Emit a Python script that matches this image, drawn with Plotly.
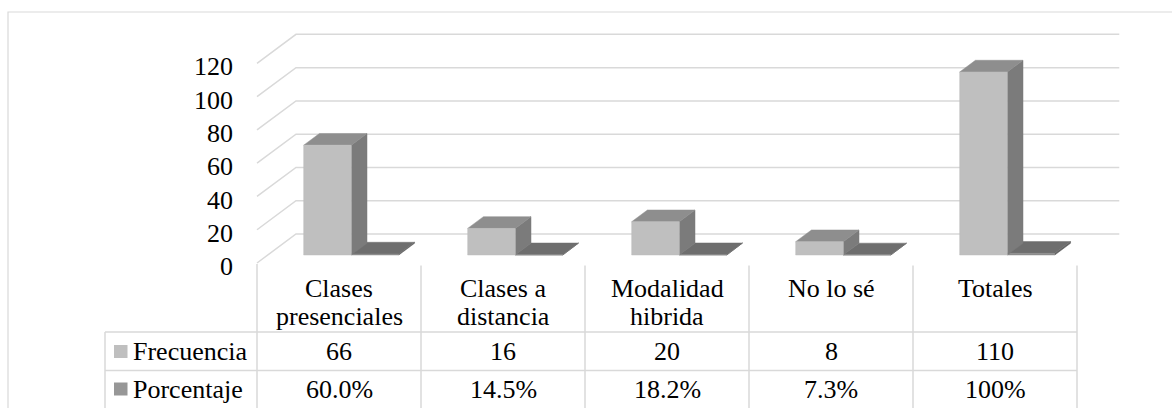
import plotly.graph_objects as go

# ---------------- data ----------------
cat_line1 = ["Clases", "Clases a", "Modalidad", "No lo sé", "Totales"]
cat_line2 = ["presenciales", "distancia", "hibrida", "", ""]
series_names = ["Frecuencia", "Porcentaje"]
frecuencia = [66, 16, 20, 8, 110]
porcentaje = [0.600, 0.145, 0.182, 0.073, 1.00]
frecuencia_labels = ["66", "16", "20", "8", "110"]
porcentaje_labels = ["60.0%", "14.5%", "18.2%", "7.3%", "100%"]
y_ticks = [0, 20, 40, 60, 80, 100, 120]

# ---------------- geometry / style ----------------
W, H = 1172, 408
PX_PER_UNIT = 1.6636
PX_PER_CAT = 164.0
FRONT_ZERO_PX = 263.0
FRONT_LEFT_PX = 257.0
DEPTH_DX_PX, DEPTH_DY_PX = 39.0, 29.0
T0, T1 = 0.276, 0.68
BAR_OFF, BAR_W = -0.281, 0.29
FONT = "Liberation Serif"
FS = 26
GRID = "#D9D9D9"
front_cols = ["#BFBFBF", "#8C8C8C"]
top_cols = ["#8E8E8E", "#6E6E6E"]
side_cols = ["#7B7B7B", "#5E5E5E"]
legend_cols = ["#BFBFBF", "#979797"]

x_range = [(0 - FRONT_LEFT_PX) / PX_PER_CAT - 0.5, (W - FRONT_LEFT_PX) / PX_PER_CAT - 0.5]
y_range = [(FRONT_ZERO_PX - H) / PX_PER_UNIT, FRONT_ZERO_PX / PX_PER_UNIT]


def ddx(t):
    return t * DEPTH_DX_PX / PX_PER_CAT


def ddy(t):
    return t * DEPTH_DY_PX / PX_PER_UNIT


def xpx(px):
    return (px - FRONT_LEFT_PX) / PX_PER_CAT - 0.5


def ypaper(px):
    return 1 - px / H


n = len(cat_line1)
fig = go.Figure()

# 3D walls gridlines
gx, gy = [], []
back_right = n - 0.5 + 0.02
for v in y_ticks:
    gx += [-0.5, -0.5 + ddx(1), back_right + ddx(1), None]
    gy += [v, v + ddy(1), v + ddy(1), None]
fig.add_trace(go.Scatter(x=gx, y=gy, mode="lines", line=dict(color=GRID, width=1.5),
                         hoverinfo="skip", showlegend=False))


def poly(xs, ys, color):
    fig.add_trace(go.Scatter(x=xs + [xs[0]], y=ys + [ys[0]], mode="lines", fill="toself",
                             fillcolor=color, line=dict(color=color, width=0.5),
                             hoverinfo="skip", showlegend=False))


series_vals = [frecuencia, porcentaje]
for i in range(n):
    for s in [1, 0]:
        v = series_vals[s][i]
        xl = i + BAR_OFF + s * BAR_W
        xr = xl + BAR_W
        a0x, a0y, a1x, a1y = ddx(T0), ddy(T0), ddx(T1), ddy(T1)
        # side face
        poly([xr + a0x, xr + a1x, xr + a1x, xr + a0x],
             [a0y, a1y, v + a1y, v + a0y], side_cols[s])
        # top face
        poly([xl + a0x, xr + a0x, xr + a1x, xl + a1x],
             [v + a0y, v + a0y, v + a1y, v + a1y], top_cols[s])
        # front face
        poly([xl + a0x, xr + a0x, xr + a0x, xl + a0x],
             [a0y, a0y, v + a0y, v + a0y], front_cols[s])

shapes = []
line_style = dict(color=GRID, width=1.5)
# chart border
shapes.append(dict(type="rect", xref="paper", yref="paper", x0=8 / W, x1=1.02, y0=-0.02,
                   y1=ypaper(12), line=dict(color=GRID, width=1.2), fillcolor="rgba(0,0,0,0)"))
# table lines
tbl_left = xpx(105)
for ypx in [332, 370.5]:
    shapes.append(dict(type="line", xref="x", yref="paper", x0=tbl_left, x1=n - 0.5,
                       y0=ypaper(ypx), y1=ypaper(ypx), line=line_style))
shapes.append(dict(type="line", xref="x", yref="paper", x0=tbl_left, x1=tbl_left,
                   y0=ypaper(332), y1=-0.02, line=line_style))
for k in range(n + 1):
    shapes.append(dict(type="line", xref="x", yref="paper", x0=k - 0.5, x1=k - 0.5,
                       y0=ypaper(264 if k == 0 else 265.5), y1=-0.02, line=line_style))
# legend keys
for s, ycen in enumerate([351.5, 389]):
    shapes.append(dict(type="rect", xref="paper", yref="paper", x0=114 / W, x1=127.5 / W,
                       y0=ypaper(ycen + 6.5), y1=ypaper(ycen - 6.5),
                       line=dict(width=0), fillcolor=legend_cols[s]))

ann = []
tf = dict(family=FONT, size=FS, color="#000000")
for s, ycen in enumerate([351, 389]):
    ann.append(dict(x=131 / W, y=ypaper(ycen), xref="paper", yref="paper", text=series_names[s],
                    xanchor="left", yanchor="middle", showarrow=False, font=tf))
for i in range(n):
    ann.append(dict(x=i, y=ypaper(288), xref="x", yref="paper", text=cat_line1[i],
                    xanchor="center", yanchor="middle", showarrow=False, font=tf))
    if cat_line2[i]:
        ann.append(dict(x=i, y=ypaper(316), xref="x", yref="paper", text=cat_line2[i],
                        xanchor="center", yanchor="middle", showarrow=False, font=tf))
    ann.append(dict(x=i, y=ypaper(351), xref="x", yref="paper", text=frecuencia_labels[i],
                    xanchor="center", yanchor="middle", showarrow=False, font=tf))
    ann.append(dict(x=i, y=ypaper(389), xref="x", yref="paper", text=porcentaje_labels[i],
                    xanchor="center", yanchor="middle", showarrow=False, font=tf))

fig.update_layout(
    width=W, height=H, margin=dict(l=0, r=0, t=0, b=0),
    paper_bgcolor="white", plot_bgcolor="white",
    showlegend=False, shapes=shapes, annotations=ann,
    xaxis=dict(range=x_range, visible=False, fixedrange=True),
    yaxis=dict(range=y_range, anchor="free", position=233 / W, showgrid=False, zeroline=False,
               showline=False, ticks="", tickvals=y_ticks, ticktext=[str(t) for t in y_ticks],
               tickfont=tf, automargin=False, ticklabelshift=3, fixedrange=True),
)
fig.write_html("out.html", config={"displayModeBar": False},
               post_script="document.body.style.margin='0';document.body.style.overflow='hidden';")
